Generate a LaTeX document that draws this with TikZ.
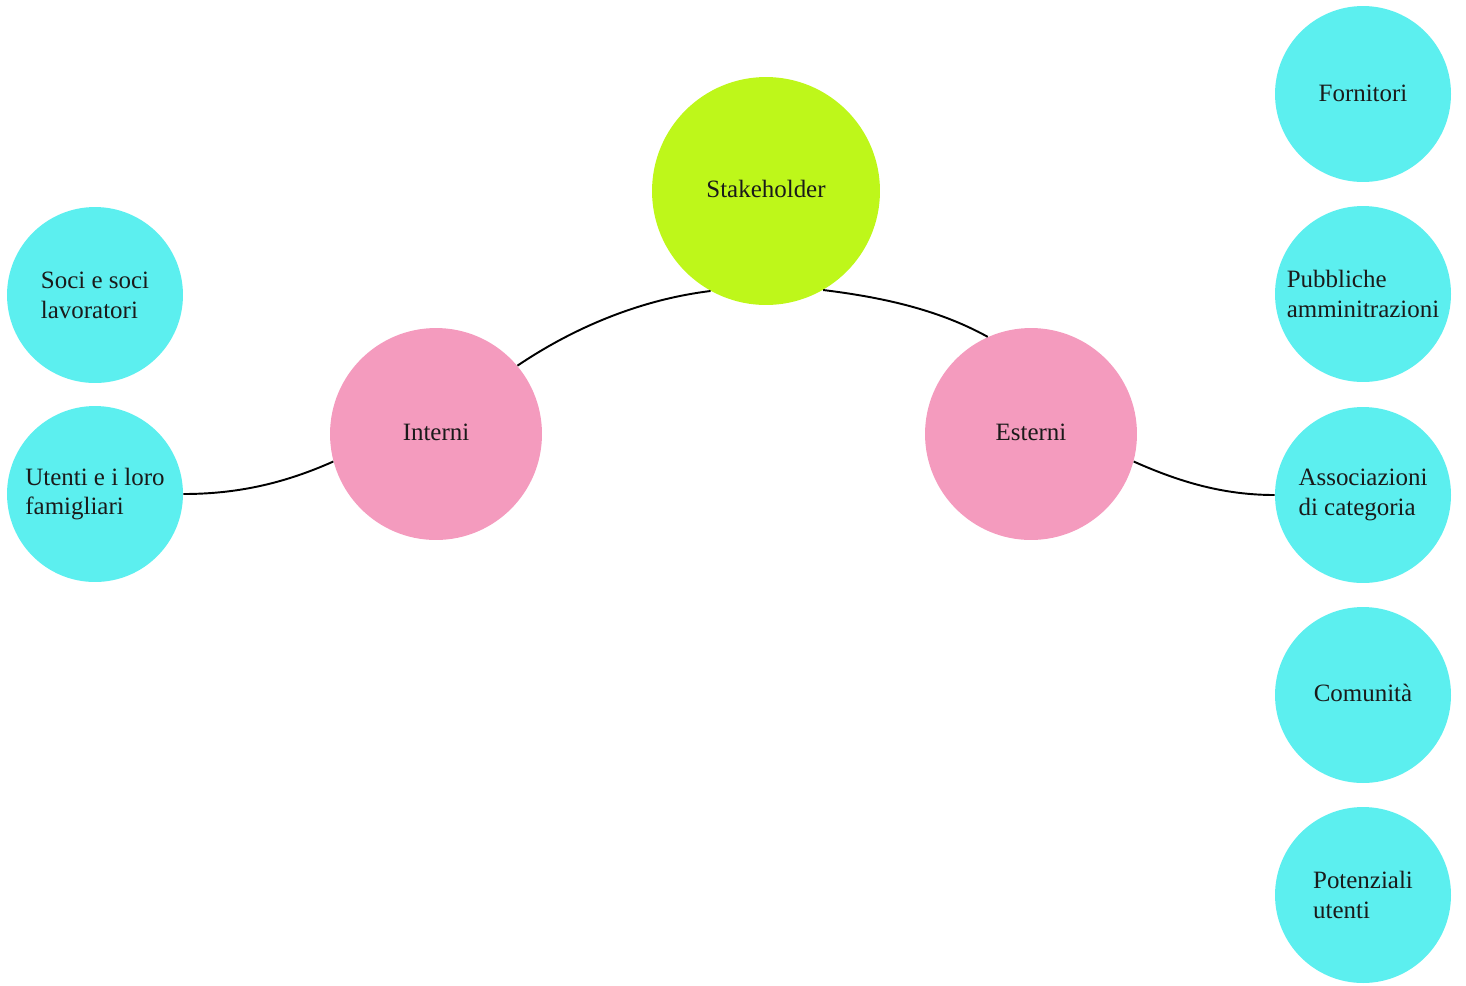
\documentclass[tikz,border=0pt]{standalone}
\usepackage{fontspec}
\setmainfont{Liberation Serif}
\definecolor{lime}{HTML}{BEF71A}
\definecolor{pinkc}{HTML}{F49BBE}
\definecolor{cyanc}{HTML}{5CEFEF}
\definecolor{txt}{HTML}{1A1A1A}
\begin{document}
\begin{tikzpicture}[x=0.02cm,y=-0.02cm,
  bubble/.style={circle,inner sep=0pt,text=txt,align=left,font=\fontsize{14.2}{17}\selectfont},
  mainb/.style={bubble,fill=lime,minimum size=4.56cm},
  midb/.style={bubble,fill=pinkc,minimum size=4.24cm},
  leafb/.style={bubble,fill=cyanc,minimum size=3.52cm},
  link/.style={draw=black,line width=1.1pt}]
\useasboundingbox (0,0) rectangle (1466,985);
\node[mainb] (stake) at (766,191) {\raisebox{2pt}{Stakeholder}};
\node[midb] (int) at (436,434) {\raisebox{2pt}{Interni}};
\node[midb] (est) at (1031,434) {\raisebox{2pt}{Esterni}};
\node[leafb] (soci) at (95,295) {Soci e soci\\lavoratori};
\node[leafb] (utenti) at (95,494) {Utenti e i loro\\famigliari};
\node[leafb] (forn) at (1363,94) {\raisebox{1pt}{Fornitori}};
\node[leafb] (pubb) at (1363,294) {Pubbliche\\amminitrazioni};
\node[leafb] (assoc) at (1363,495) {Associazioni\\di categoria};
\node[leafb] (com) at (1363,695) {\raisebox{2pt}{Comunità}};
\node[leafb] (pot) at (1363,895) {Potenziali\\utenti};
\draw[link] (int.40) to[out=34,in=187,looseness=0.86] (stake.241);
\draw[link] (stake.300) to[out=-7,in=151,looseness=0.86] (est.114);
\draw[link] (int.195) to[out=204,in=0,looseness=0.9] (utenti.east);
\draw[link] (est.-15) to[out=-24,in=180,looseness=0.9] (assoc.west);
\end{tikzpicture}
\end{document}
